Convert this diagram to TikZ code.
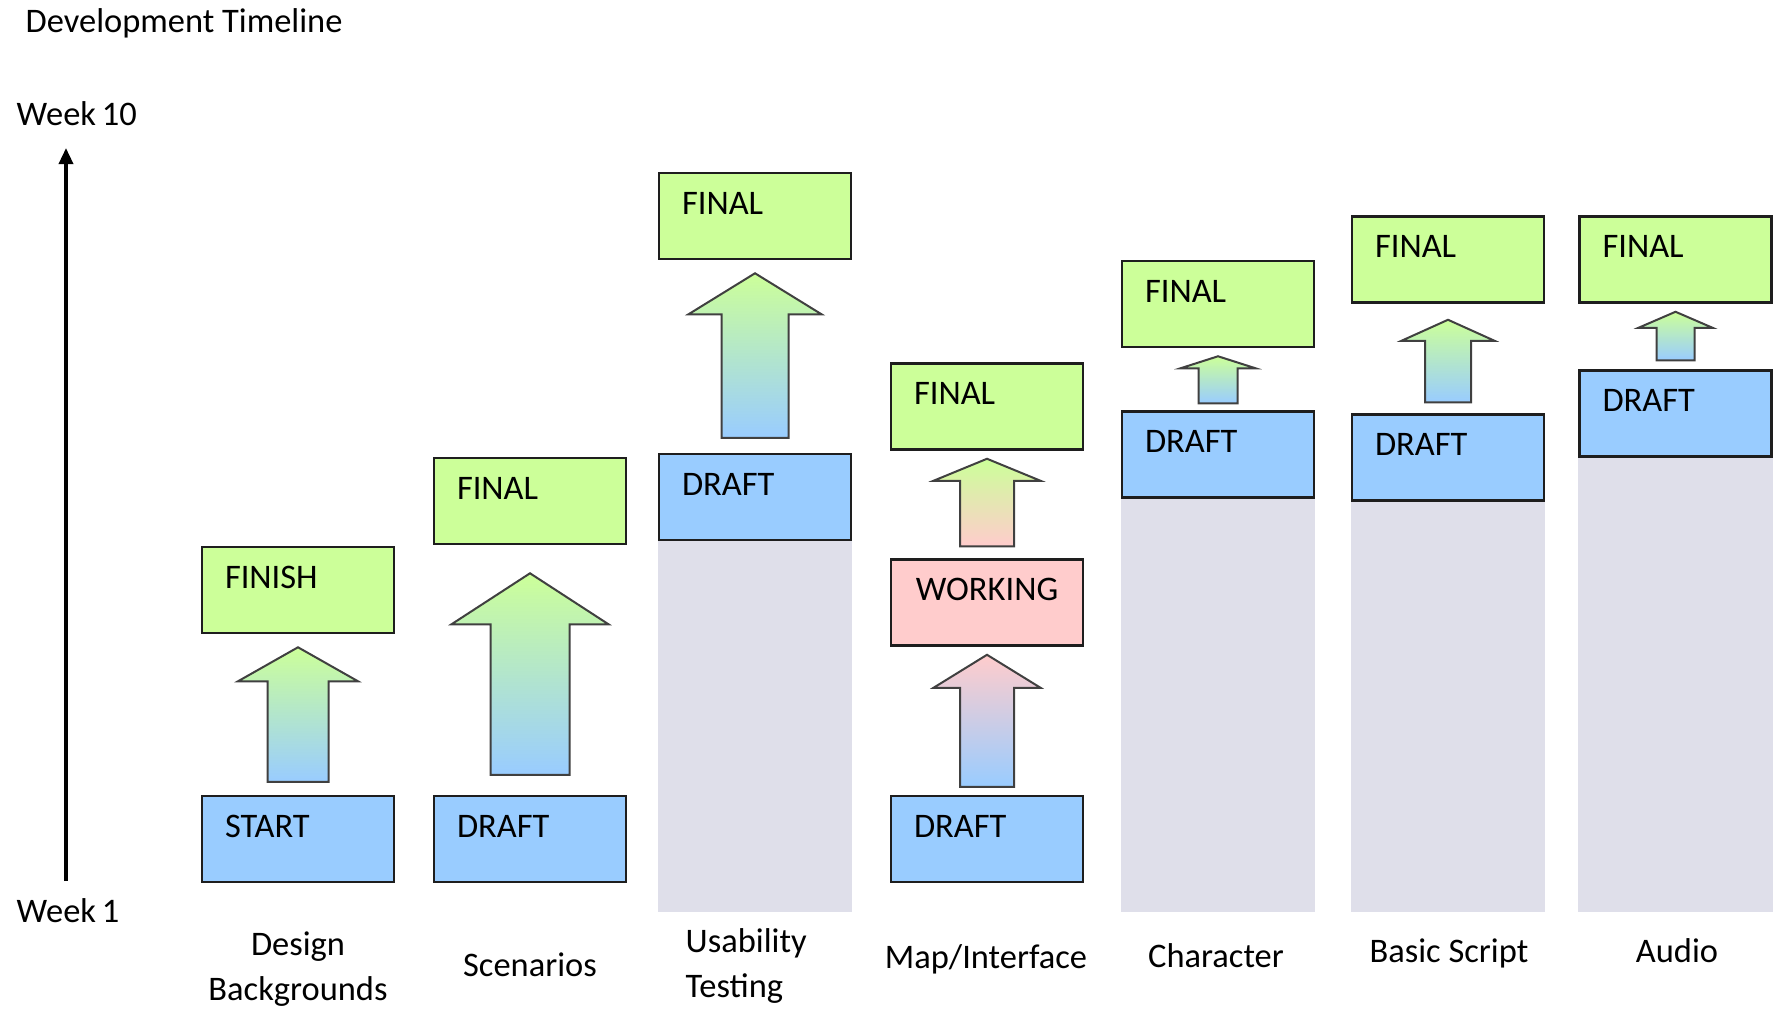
\documentclass[tikz,border=0pt]{standalone}
\usepackage{fontspec}
\setmainfont{Carlito}
\usetikzlibrary{arrows.meta, positioning, calc, backgrounds}
\definecolor{finalgreen}{RGB}{204,255,153}
\definecolor{draftblue}{RGB}{153,204,255}
\definecolor{workpink}{RGB}{255,204,204}
\definecolor{pending}{RGB}{223,223,234}
\definecolor{edge}{RGB}{30,30,30}

% block arrow from the top of #1 to the bottom of #2
% #3 bottom gap, #4 top gap, #5 shaft half width, #6 head half width, #7 head length, #8/#9 top/bottom colour
\newcommand{\stagearrow}[9]{%
  \draw[arrowbody, top color=#8, bottom color=#9]
    ($(#1.north)+(-#5,-#3)$) -- ($(#2.south)+(-#5,#4+#7)$) -- ($(#2.south)+(-#6,#4+#7)$)
    -- ($(#2.south)+(0,#4)$) -- ($(#2.south)+(#6,#4+#7)$) -- ($(#2.south)+(#5,#4+#7)$)
    -- ($(#1.north)+(#5,-#3)$) -- cycle;}

\begin{document}
\begin{tikzpicture}[
    x=0.1mm, y=-0.1mm,
    font=\fontsize{9.8}{12.8}\selectfont,
    stagebox/.style={draw=edge, line width=0.25mm, minimum width=19.2mm, minimum height=8.6mm, inner xsep=2.3mm, inner ysep=0pt, text width=14.6mm, text height=4.1mm, text depth=4.5mm, align=left},
    final/.style={stagebox, fill=finalgreen},
    draft/.style={stagebox, fill=draftblue},
    working/.style={stagebox, fill=workpink, align=center},
    phase/.style={align=center, anchor=base},
    arrowbody/.style={draw=edge!85, line width=0.2mm},
]
\useasboundingbox (0,0) rectangle (1783,1008);

% Title and time axis
\node[anchor=base west, inner sep=0pt] (title) at (25,32) {Development Timeline};
\node[anchor=base west, inner sep=0pt] (wk10) at (16,125) {Week\,10};
\node[anchor=base west, inner sep=0pt] (wk1) at (16,922) {Week\,1};
\coordinate (axislow) at (66,881);
\coordinate (axishigh) at (66,148);
\coordinate (base) at (0,912);
\draw[-{Triangle[length=1.6mm, width=1.4mm]}, line width=0.35mm] (axislow) -- (axishigh);

% Design Backgrounds
\node[draft] (start) at (298,839) {START};
\node[final] (finish) at (298,590) {FINISH};

% Scenarios
\node[draft] (scdraft) at (530,839) {DRAFT};
\node[final] (scfinal) at (530,501) {FINAL};

% Usability Testing
\node[draft] (usdraft) at (755,497) {DRAFT};
\node[final] (usfinal) at (755,216) {FINAL};

% Map/Interface
\node[draft] (mpdraft) at (987,839) {DRAFT};
\node[working] (mpwork) at (987,602.5) {WORKING};
\node[final] (mpfinal) at (987,406.5) {FINAL};

% Character
\node[draft] (chdraft) at (1218,454.5) {DRAFT};
\node[final] (chfinal) at (1218,304) {FINAL};

% Basic Script
\node[draft] (bsdraft) at (1448,457.5) {DRAFT};
\node[final] (bsfinal) at (1448,259.5) {FINAL};

% Audio
\node[draft] (audraft) at (1675.5,413.5) {DRAFT};
\node[final] (aufinal) at (1675.5,259.5) {FINAL};

% Not yet scheduled
\begin{scope}[on background layer]
\fill[pending] (usdraft.south west) rectangle (usdraft.south east |- base);
\fill[pending] (chdraft.south west) rectangle (chdraft.south east |- base);
\fill[pending] (bsdraft.south west) rectangle (bsdraft.south east |- base);
\fill[pending] (audraft.south west) rectangle (audraft.south east |- base);
\end{scope}

% Arrows
\stagearrow{start}{finish}{13}{13}{30.5}{60}{34}{finalgreen}{draftblue}
\stagearrow{scdraft}{scfinal}{20}{28}{39.5}{78.5}{51}{finalgreen}{draftblue}
\stagearrow{usdraft}{usfinal}{15}{13}{33.5}{66.5}{41}{finalgreen}{draftblue}
\stagearrow{mpdraft}{mpwork}{8}{8}{27}{53.5}{33}{workpink}{draftblue}
\stagearrow{mpwork}{mpfinal}{12}{8}{27}{53.5}{22}{finalgreen}{workpink}
\stagearrow{chdraft}{chfinal}{7}{8}{19.5}{37.5}{12}{finalgreen}{draftblue}
\stagearrow{bsdraft}{bsfinal}{11}{16}{23}{46.5}{21}{finalgreen}{draftblue}
\stagearrow{audraft}{aufinal}{9}{8}{19}{37}{16}{finalgreen}{draftblue}

% Column labels (base is the last line)
\node[phase] (lbdesign) at (298,1000) {Design\\Backgrounds};
\node[phase] (lbscen) at (530,976) {Scenarios};
\node[phase, align=left, anchor=base west, inner sep=0pt] (lbusab) at (685,997) {Usability\\Testing};
\node[phase] (lbmap) at (986,968) {Map/Interface};
\node[phase] (lbchar) at (1216,967) {Character};
\node[phase] (lbscript) at (1449,962) {Basic Script};
\node[phase] (lbaudio) at (1677,962) {Audio};

\end{tikzpicture}
\end{document}
